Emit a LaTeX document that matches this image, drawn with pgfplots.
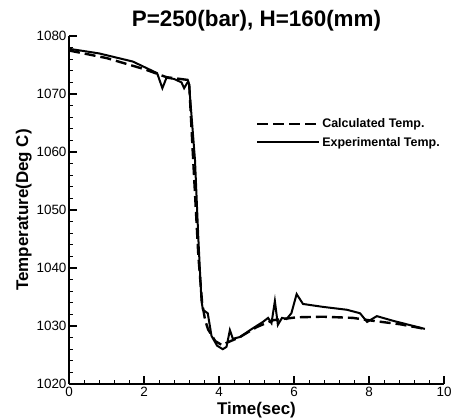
\documentclass[border=0pt]{standalone}
\usepackage{pgfplots}
\pgfplotsset{compat=1.18}
\usepackage{fontspec}
\setmainfont{Liberation Sans}
\begin{document}
\begin{tikzpicture}
\useasboundingbox (-69bp,-36bp) rectangle (390bp,384bp);
\begin{axis}[
  scale only axis,
  width=375bp, height=348bp,
  xmin=0, xmax=10, ymin=1020, ymax=1080,
  axis lines=left,
  axis line style={line width=1.6bp, -},
  xtick={0,2,4,6,8,10},
  ytick={1020,1030,1040,1050,1060,1070,1080},
  minor x tick num=4, minor y tick num=4,
  tick align=inside,
  major tick length=8bp, minor tick length=4bp,
  every tick/.style={black, line width=1.2bp},
  minor tick style={line width=0.8bp},
  xticklabel style={font=\fontsize{13.5}{14}\selectfont, yshift=0bp},
  yticklabel style={font=\fontsize{13.5}{14}\selectfont, xshift=1bp},
  /pgf/number format/assume math mode=true,
  /pgf/number format/1000 sep={},
  xlabel={\textbf{Time(sec)}},
  ylabel={\textbf{Temperature(Deg C)}},
  label style={font=\fontsize{17}{18}\selectfont},
  xlabel style={yshift=2bp},
  ylabel style={yshift=-2bp},
  title={\textbf{P=250(bar), H=160(mm)}},
  title style={font=\fontsize{22.5}{24}\selectfont, yshift=-5bp},
  legend style={at={(rel axis cs:0.49,0.775)}, anchor=north west, draw=none, fill=none,
    font=\fontsize{12.5}{14}\selectfont\bfseries, row sep=4bp},
  legend cell align=left,
  legend image code/.code={\draw[#1] (0bp,0bp) -- (62bp,0bp);},
]
\addplot[black, line width=2.4bp, dash pattern=on 11bp off 5bp] coordinates {
(0,1077.5)(1.0,1076.2)(2.0,1074.3)(2.6,1072.9)(3.2,1072.4)(3.3,1060)(3.45,1042)
(3.55,1034)(3.63,1031.0)(3.71,1029.4)(3.9,1027.4)(4.08,1026.7)(4.24,1027.2)
(4.56,1028.1)(5.0,1029.8)(5.44,1031.0)(6.07,1031.5)(6.77,1031.6)(7.57,1031.4)
(8.1,1030.9)(8.83,1030.3)(9.49,1029.5)};
\addlegendentry{Calculated Temp.}
\addplot[black, line width=2.0bp] coordinates {
(0,1077.8)(0.8,1077.0)(1.7,1075.6)(2.35,1073.6)(2.49,1071.0)(2.6,1072.8)(2.8,1072.6)
(3.0,1072.0)(3.07,1071.0)(3.18,1072.2)(3.2,1071.8)(3.36,1058.6)(3.45,1045)
(3.53,1034.5)(3.57,1032.8)(3.7,1032.2)(3.8,1028.3)(3.95,1026.6)(4.1,1026.0)
(4.2,1026.4)(4.29,1029.3)(4.37,1027.8)(4.56,1028.1)(4.83,1029.3)(5.17,1030.7)
(5.31,1031.4)(5.4,1030.5)(5.49,1034.3)(5.57,1030.2)(5.68,1031.4)(5.8,1031.2)
(5.93,1032.2)(6.07,1035.5)(6.24,1033.8)(6.77,1033.3)(7.41,1032.8)(7.76,1032.2)
(7.95,1030.7)(8.21,1031.7)(8.64,1030.9)(9.49,1029.5)};
\addlegendentry{Experimental Temp.}
\end{axis}
\end{tikzpicture}
\end{document}
